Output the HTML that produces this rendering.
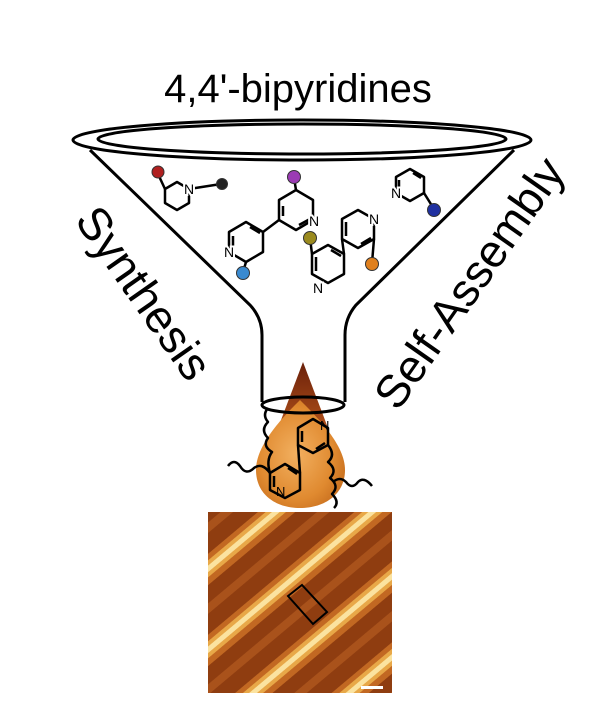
<!DOCTYPE html>
<html><head><meta charset="utf-8"><style>
html,body{margin:0;padding:0;background:#fff;}
svg{display:block;font-family:"Liberation Sans",Arial,sans-serif;}
</style></head><body>
<svg width="600" height="727" viewBox="0 0 600 727" xmlns="http://www.w3.org/2000/svg">
<defs>
<radialGradient id="drop" cx="0.45" cy="0.5" r="0.6">
<stop offset="0" stop-color="#f2b060"/><stop offset="0.7" stop-color="#e08a30"/><stop offset="1" stop-color="#c9701f"/>
</radialGradient>
<linearGradient id="cone" x1="0" y1="0" x2="0" y2="1">
<stop offset="0" stop-color="#6a200a"/><stop offset="1" stop-color="#b0501a"/>
</linearGradient>
<pattern id="stripes" width="62" height="62" patternUnits="userSpaceOnUse" patternTransform="rotate(-40)">
<rect width="62" height="62" fill="#8f3d10"/>
<rect y="0" width="62" height="24" fill="#c26822"/>
<rect y="5" width="62" height="13" fill="#e8a848"/>
<rect y="9" width="62" height="5" fill="#fbe3a0"/>
<rect y="38" width="62" height="8" fill="#a9521b"/>
</pattern>
</defs>

<text x="298" y="102" font-size="40" text-anchor="middle" fill="#000">4,4'-bipyridines</text>

<g fill="none" stroke="#000" stroke-width="3">
<ellipse cx="302" cy="140" rx="229" ry="20"/>
<ellipse cx="302" cy="139" rx="204" ry="15"/>
<path d="M90 150 L250 305 Q262 318 262 335 L262 402"/>
<path d="M514 150 L356 305 Q345 318 345 335 L345 402"/>
</g>
<path d="M303 362 L278 428 L328 428 Z" fill="url(#cone)"/>
<path d="M300 400 C318 418 345 445 345 470 C345 494 325 508 300 508 C275 508 256 494 256 470 C256 445 282 418 300 400 Z" fill="url(#drop)"/>
<ellipse cx="303" cy="405" rx="41" ry="8" fill="none" stroke="#000" stroke-width="3"/>

<!-- molecules in funnel -->
<g fill="none" stroke="#000" stroke-width="2.5" stroke-linejoin="round">
<!-- left small pyridine, center (177,196) r14 -->
<polygon points="177,182 189,189 189,203 177,210 165,203 165,189"/>
<path d="M165 189 L158 174 M189 189 L221 184"/>
<!-- center bipyridine: upper (296,210) r20, lower (246,242) r20 -->
<polygon points="296,190 313,200 313,220 296,230 279,220 279,200"/>
<path d="M283 206 L283 216 M299 225 L310 219"/>
<polygon points="246,222 263,232 263,252 246,262 229,252 229,232"/>
<path d="M250 227 L260 233 M233 236 L233 248"/>
<path d="M279 220 L263 232 M296 190 L294 178 M246 262 L243 272"/>
<!-- right bipyridine: upper (358,229) r19, lower (328,264) r19 -->
<polygon points="358,210 374,219 374,239 358,248 342,239 342,219"/>
<path d="M346 222 L346 236 M361 244 L371 238"/>
<polygon points="328,245 344,254 344,274 328,283 312,274 312,254"/>
<path d="M331 250 L341 256 M316 257 L316 271"/>
<path d="M342 239 L344 254 M312 254 L310 238 M374 239 L372 263"/>
<!-- right pyridine (410,185) r16 -->
<polygon points="410,169 424,177 424,193 410,201 396,193 396,177"/>
<path d="M413 173 L421 178 M399 180 L399 190 M424 193 L434 209"/>
</g>
<g font-size="14" fill="#000" text-anchor="middle" stroke="#fff" stroke-width="4" paint-order="stroke">
<text x="189" y="194">N</text><text x="314" y="226">N</text><text x="229" y="257">N</text>
<text x="374" y="224">N</text><text x="318" y="293">N</text><text x="396" y="198">N</text>
</g>
<g stroke="#333" stroke-width="1">
<circle cx="158" cy="172" r="6" fill="#b02020"/>
<circle cx="222" cy="184" r="5.5" fill="#222"/>
<circle cx="294" cy="177" r="6.5" fill="#9b3cb4"/>
<circle cx="243" cy="273" r="6.5" fill="#3a8ad0"/>
<circle cx="310" cy="238" r="6.5" fill="#9a8a1e"/>
<circle cx="372" cy="264" r="6.5" fill="#e0801e"/>
<circle cx="434" cy="210" r="6.5" fill="#2030a0"/>
</g>

<!-- bipyridine on drop: upper (313,436) r17, lower (285,481) r17 -->
<g fill="none" stroke="#000" stroke-width="2.5" stroke-linejoin="round">
<polygon points="313,419 328,428 328,445 313,453 298,445 298,428"/>
<path d="M302 431 L302 442 M316 449 L325 443"/>
<polygon points="285,464 300,473 300,490 285,498 270,490 270,473"/>
<path d="M288 468 L297 474 M274 476 L274 487"/>
<path d="M298 445 L300 473"/>
<path d="M270 473 Q266 460 272 452 Q262 446 268 438 Q260 430 268 422 Q262 415 268 408"/>
<path d="M270 473 Q262 462 254 468 Q246 476 240 466 Q234 458 228 466"/>
<path d="M328 445 Q336 455 328 462 Q338 470 330 478 Q340 486 332 494 Q340 502 334 508"/>
<path d="M333 482 Q340 476 346 482 Q352 490 358 482 Q364 476 372 486"/>
</g>
<g font-size="13" fill="#000">
<text x="276" y="496">N</text><text x="320" y="430">N</text>
</g>

<!-- STM image -->
<rect x="208" y="512" width="184" height="181" fill="url(#stripes)"/>
<path d="M288 596 L302 585 L327 612 L313 624 Z" fill="none" stroke="#000" stroke-width="2"/>
<rect x="361" y="686" width="22" height="3" fill="#fff"/>

<text font-size="46" fill="#000" text-anchor="middle" transform="translate(131,302) rotate(55)">Synthesis</text>
<text font-size="46" fill="#000" text-anchor="middle" transform="translate(482,292) rotate(-55)">Self-Assembly</text>
</svg>
</body></html>
